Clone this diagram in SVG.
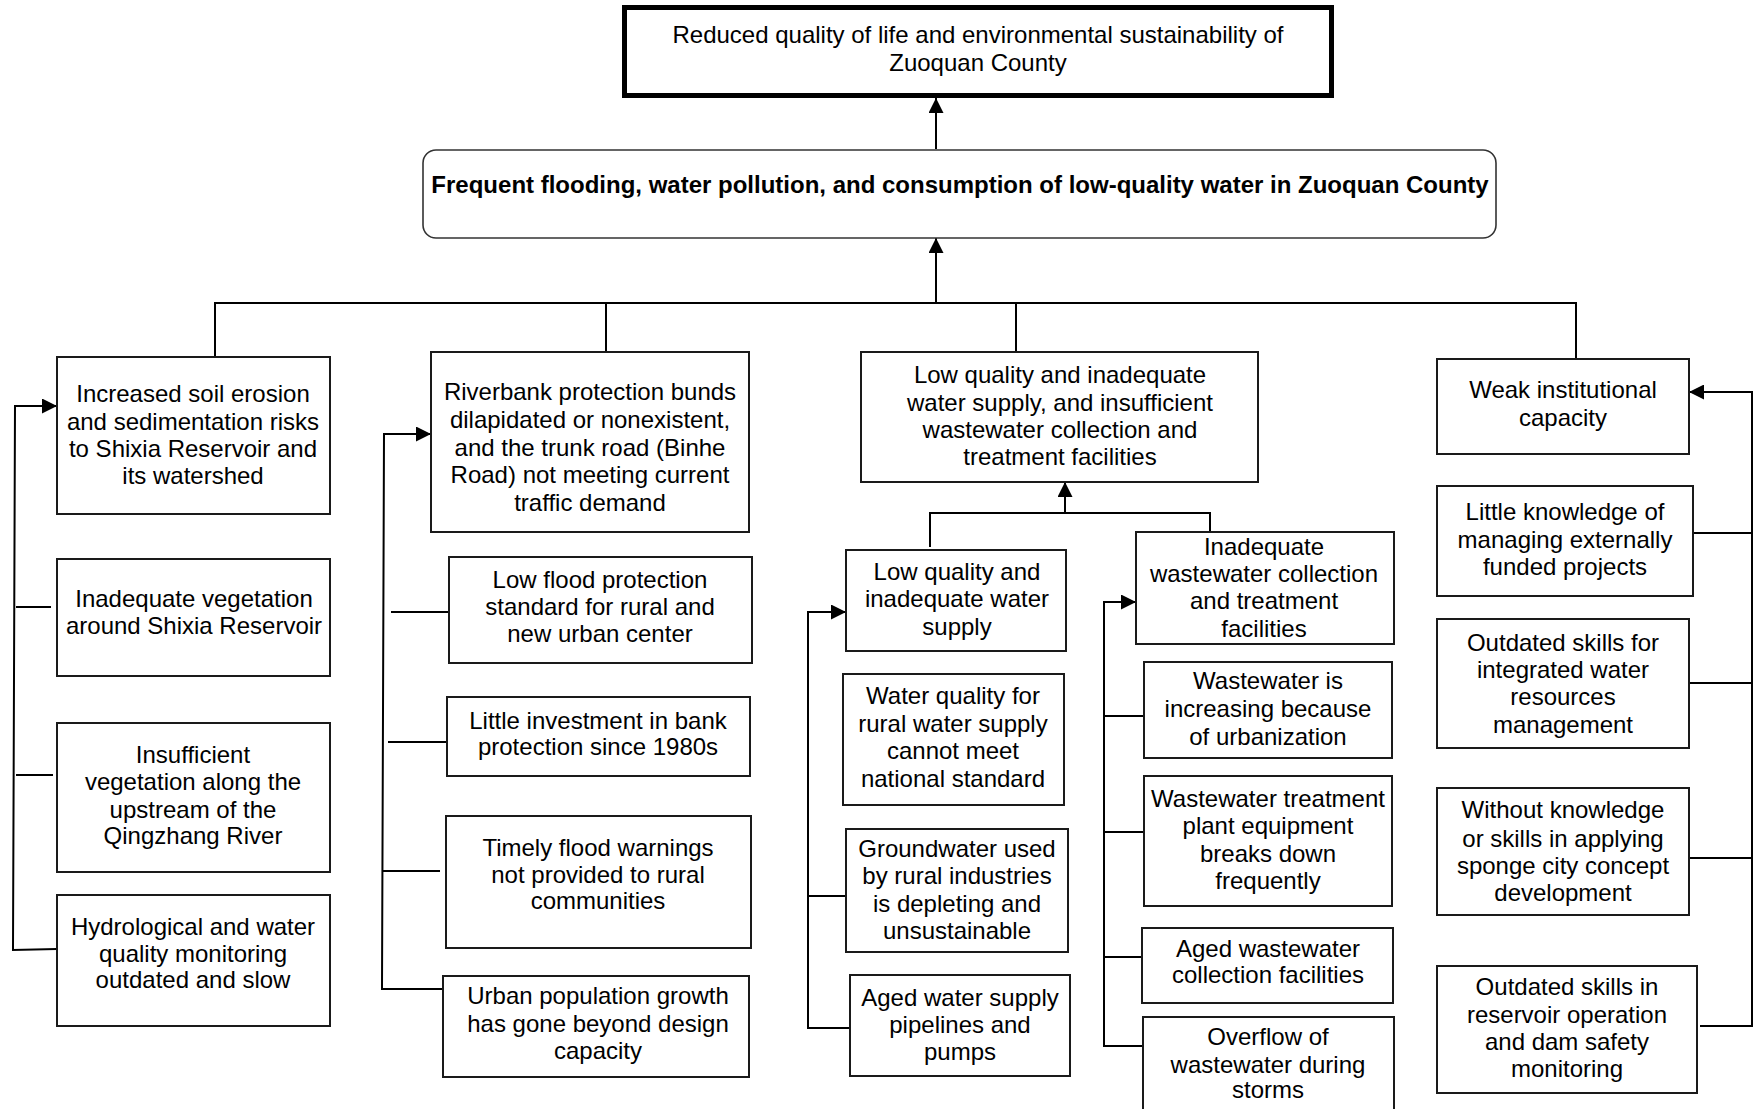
<svg xmlns="http://www.w3.org/2000/svg" width="1754" height="1109" viewBox="0 0 1754 1109">
<style>
  .box { fill: #fff; stroke: #1a1a1a; stroke-width: 2; }
  .t { font-family: "Liberation Sans", Arial, sans-serif; font-size: 24px; fill: #000; text-anchor: middle; }
  .b { font-weight: bold; }
  .c { fill: none; stroke: #000; stroke-width: 2; }
</style>
<defs>
  <marker id="ah" markerUnits="userSpaceOnUse" markerWidth="15" markerHeight="15" refX="15" refY="7.5" orient="auto">
    <path d="M0,0 L15,7.5 L0,15 z" fill="#000"/>
  </marker>
</defs>
<rect width="1754" height="1109" fill="#fff"/>

<g id="connectors">
  <line class="c" x1="936" y1="149" x2="936" y2="98" marker-end="url(#ah)"/>
  <line class="c" x1="936" y1="303" x2="936" y2="238" marker-end="url(#ah)"/>
  <polyline class="c" points="215,357 215,303 1576,303 1576,359"/>
  <line class="c" x1="606" y1="303" x2="606" y2="352"/>
  <line class="c" x1="1016" y1="303" x2="1016" y2="352"/>
  <!-- column 1 -->
  <polyline class="c" points="57,949 13,950 15,406 57,406" marker-end="url(#ah)"/>
  <line class="c" x1="16" y1="607" x2="51" y2="607"/>
  <line class="c" x1="16" y1="775" x2="53" y2="775"/>
  <!-- column 2 -->
  <polyline class="c" points="443,989 382,989 384,434 431,434" marker-end="url(#ah)"/>
  <line class="c" x1="391" y1="612" x2="449" y2="612"/>
  <line class="c" x1="388" y1="742" x2="447" y2="742"/>
  <line class="c" x1="383" y1="871" x2="440" y2="871"/>
  <!-- sub-bus -->
  <polyline class="c" points="930,547 930,513 1210,513 1210,532"/>
  <line class="c" x1="1065" y1="513" x2="1065" y2="482" marker-end="url(#ah)"/>
  <!-- column 3 -->
  <polyline class="c" points="850,1028 808,1028 808,612 846,612" marker-end="url(#ah)"/>
  <line class="c" x1="808" y1="896" x2="846" y2="896"/>
  <!-- column 4 -->
  <polyline class="c" points="1143,1046 1104,1046 1104,602 1136,602" marker-end="url(#ah)"/>
  <line class="c" x1="1104" y1="716" x2="1144" y2="716"/>
  <line class="c" x1="1104" y1="832" x2="1144" y2="832"/>
  <line class="c" x1="1104" y1="957" x2="1142" y2="957"/>
  <!-- column 5 -->
  <polyline class="c" points="1700,1026 1752,1026 1752,392 1689,392" marker-end="url(#ah)"/>
  <line class="c" x1="1693" y1="533" x2="1752" y2="533"/>
  <line class="c" x1="1689" y1="683" x2="1752" y2="683"/>
  <line class="c" x1="1689" y1="858" x2="1752" y2="858"/>
</g>

<g id="n-top">
  <rect x="624.5" y="7.5" width="707" height="88" fill="#fff" stroke="#000" stroke-width="5"/>
  <text class="t"><tspan x="978" y="43">Reduced quality of life and environmental sustainability of</tspan><tspan x="978" y="71">Zuoquan County</tspan></text>
</g>
<g id="n-core">
  <rect x="423" y="150" width="1073" height="88" rx="13" ry="13" fill="#fff" stroke="#333" stroke-width="1.6"/>
  <text class="t b" x="960" y="193">Frequent flooding, water pollution, and consumption of low-quality water in Zuoquan County</text>
</g>

<g id="n-A"><rect class="box" x="57" y="357" width="273" height="157"/>
  <text class="t"><tspan x="193" y="402">Increased soil erosion</tspan><tspan x="193" y="430">and sedimentation risks</tspan><tspan x="193" y="457">to Shixia Reservoir and</tspan><tspan x="193" y="484">its watershed</tspan></text></g>
<g id="n-B"><rect class="box" x="57" y="559" width="273" height="117"/>
  <text class="t"><tspan x="194" y="607">Inadequate vegetation</tspan><tspan x="194" y="634">around Shixia Reservoir</tspan></text></g>
<g id="n-C"><rect class="box" x="57" y="723" width="273" height="149"/>
  <text class="t"><tspan x="193" y="763">Insufficient</tspan><tspan x="193" y="790">vegetation along the</tspan><tspan x="193" y="818">upstream of the</tspan><tspan x="193" y="844">Qingzhang River</tspan></text></g>
<g id="n-D"><rect class="box" x="57" y="895" width="273" height="131"/>
  <text class="t"><tspan x="193" y="935">Hydrological and water</tspan><tspan x="193" y="962">quality monitoring</tspan><tspan x="193" y="988">outdated and slow</tspan></text></g>

<g id="n-E"><rect class="box" x="431" y="352" width="318" height="180"/>
  <text class="t"><tspan x="590" y="400">Riverbank protection bunds</tspan><tspan x="590" y="428">dilapidated or nonexistent,</tspan><tspan x="590" y="456">and the trunk road (Binhe</tspan><tspan x="590" y="483">Road) not meeting current</tspan><tspan x="590" y="511">traffic demand</tspan></text></g>
<g id="n-F"><rect class="box" x="449" y="557" width="303" height="106"/>
  <text class="t"><tspan x="600" y="588">Low flood protection</tspan><tspan x="600" y="615">standard for rural and</tspan><tspan x="600" y="642">new urban center</tspan></text></g>
<g id="n-G"><rect class="box" x="447" y="697" width="303" height="79"/>
  <text class="t"><tspan x="598" y="729">Little investment in bank</tspan><tspan x="598" y="755">protection since 1980s</tspan></text></g>
<g id="n-J"><rect class="box" x="446" y="816" width="305" height="132"/>
  <text class="t"><tspan x="598" y="856">Timely flood warnings</tspan><tspan x="598" y="883">not provided to rural</tspan><tspan x="598" y="909">communities</tspan></text></g>
<g id="n-K"><rect class="box" x="443" y="976" width="306" height="101"/>
  <text class="t"><tspan x="598" y="1004">Urban population growth</tspan><tspan x="598" y="1032">has gone beyond design</tspan><tspan x="598" y="1059">capacity</tspan></text></g>

<g id="n-N"><rect class="box" x="861" y="352" width="397" height="130"/>
  <text class="t"><tspan x="1060" y="383">Low quality and inadequate</tspan><tspan x="1060" y="411">water supply, and insufficient</tspan><tspan x="1060" y="438">wastewater collection and</tspan><tspan x="1060" y="465">treatment facilities</tspan></text></g>
<g id="n-H"><rect class="box" x="846" y="550" width="220" height="101"/>
  <text class="t"><tspan x="957" y="580">Low quality and</tspan><tspan x="957" y="607">inadequate water</tspan><tspan x="957" y="635">supply</tspan></text></g>
<g id="n-I"><rect class="box" x="843" y="674" width="221" height="131"/>
  <text class="t"><tspan x="953" y="704">Water quality for</tspan><tspan x="953" y="732">rural water supply</tspan><tspan x="953" y="759">cannot meet</tspan><tspan x="953" y="787">national standard</tspan></text></g>
<g id="n-L"><rect class="box" x="846" y="829" width="222" height="123"/>
  <text class="t"><tspan x="957" y="857">Groundwater used</tspan><tspan x="957" y="884">by rural industries</tspan><tspan x="957" y="912">is depleting and</tspan><tspan x="957" y="939">unsustainable</tspan></text></g>
<g id="n-M"><rect class="box" x="850" y="975" width="220" height="101"/>
  <text class="t"><tspan x="960" y="1006">Aged water supply</tspan><tspan x="960" y="1033">pipelines and</tspan><tspan x="960" y="1060">pumps</tspan></text></g>

<g id="n-O"><rect class="box" x="1136" y="532" width="258" height="112"/>
  <text class="t"><tspan x="1264" y="555">Inadequate</tspan><tspan x="1264" y="582">wastewater collection</tspan><tspan x="1264" y="609">and treatment</tspan><tspan x="1264" y="637">facilities</tspan></text></g>
<g id="n-P"><rect class="box" x="1144" y="662" width="248" height="96"/>
  <text class="t"><tspan x="1268" y="689">Wastewater is</tspan><tspan x="1268" y="717">increasing because</tspan><tspan x="1268" y="745">of urbanization</tspan></text></g>
<g id="n-Q"><rect class="box" x="1144" y="776" width="248" height="130"/>
  <text class="t"><tspan x="1268" y="807">Wastewater treatment</tspan><tspan x="1268" y="834">plant equipment</tspan><tspan x="1268" y="862">breaks down</tspan><tspan x="1268" y="889">frequently</tspan></text></g>
<g id="n-R"><rect class="box" x="1142" y="928" width="251" height="75"/>
  <text class="t"><tspan x="1268" y="957">Aged wastewater</tspan><tspan x="1268" y="983">collection facilities</tspan></text></g>
<g id="n-S"><rect class="box" x="1143" y="1017" width="251" height="100"/>
  <text class="t"><tspan x="1268" y="1045">Overflow of</tspan><tspan x="1268" y="1073">wastewater during</tspan><tspan x="1268" y="1098">storms</tspan></text></g>

<g id="n-T"><rect class="box" x="1437" y="359" width="252" height="95"/>
  <text class="t"><tspan x="1563" y="398">Weak institutional</tspan><tspan x="1563" y="426">capacity</tspan></text></g>
<g id="n-U"><rect class="box" x="1437" y="486" width="256" height="110"/>
  <text class="t"><tspan x="1565" y="520">Little knowledge of</tspan><tspan x="1565" y="548">managing externally</tspan><tspan x="1565" y="575">funded projects</tspan></text></g>
<g id="n-V"><rect class="box" x="1437" y="619" width="252" height="129"/>
  <text class="t"><tspan x="1563" y="651">Outdated skills for</tspan><tspan x="1563" y="678">integrated water</tspan><tspan x="1563" y="705">resources</tspan><tspan x="1563" y="733">management</tspan></text></g>
<g id="n-W"><rect class="box" x="1437" y="788" width="252" height="127"/>
  <text class="t"><tspan x="1563" y="818">Without knowledge</tspan><tspan x="1563" y="847">or skills in applying</tspan><tspan x="1563" y="874">sponge city concept</tspan><tspan x="1563" y="901">development</tspan></text></g>
<g id="n-X"><rect class="box" x="1437" y="966" width="260" height="127"/>
  <text class="t"><tspan x="1567" y="995">Outdated skills in</tspan><tspan x="1567" y="1023">reservoir operation</tspan><tspan x="1567" y="1050">and dam safety</tspan><tspan x="1567" y="1077">monitoring</tspan></text></g>
</svg>
